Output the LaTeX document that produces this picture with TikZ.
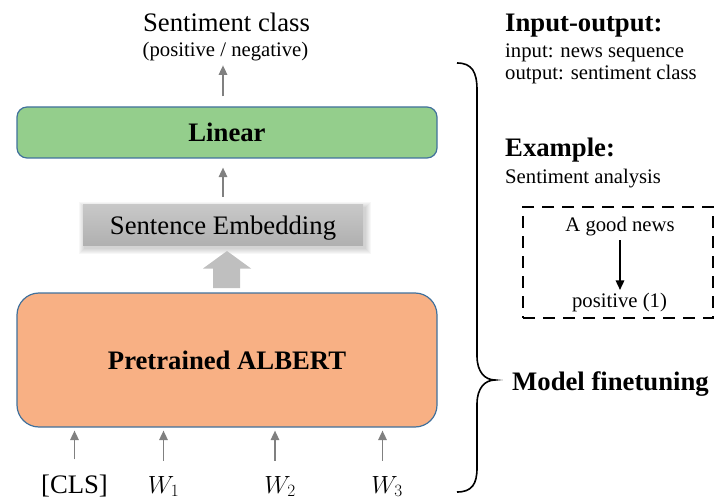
\documentclass[tikz,border=0pt]{standalone}
\usepackage{fontspec}
\setmainfont{Liberation Serif}
\usetikzlibrary{arrows.meta}
\definecolor{lingreen}{RGB}{148,206,140}
\definecolor{albertor}{RGB}{248,176,132}
\definecolor{boxblue}{RGB}{65,113,156}
\definecolor{arrgray}{RGB}{128,128,128}
\definecolor{blockgray}{RGB}{191,191,191}
\newcommand{\bigsz}{\fontsize{26.7}{30}\selectfont}
\newcommand{\smallsz}{\fontsize{20.7}{23}\selectfont}
\begin{document}
\begin{tikzpicture}[x=1pt,y=-1pt,
  modelbox/.style={draw=boxblue, line width=1.2pt, minimum width=420pt, inner sep=0pt},
  garr/.style={draw=arrgray, line width=1.6pt, -{Triangle[width=8.5pt,length=9.5pt]}},
  karr/.style={draw=black, line width=1.6pt, -{Triangle[width=8.5pt,length=9.5pt]}},
  lbl/.style={inner sep=0pt, anchor=base},
  lblw/.style={inner sep=0pt, anchor=base west},
]
\useasboundingbox (0,0) rectangle (718,500);

% boxes
\node[modelbox, fill=lingreen, rounded corners=10pt, minimum height=51pt, font=\bigsz\bfseries] (linear) at (227,132.5) {Linear};
\node[modelbox, fill=albertor, rounded corners=22pt, minimum height=134pt, font=\bigsz\bfseries] (albert) at (227,360) {Pretrained ALBERT};

% sentence embedding with soft shadow
\foreach \i in {1,...,6}{
  \fill[black, opacity=0.03] ({83-\i+2},{205-\i+3}) rectangle ({363+\i+2},{245+\i+3});
}
\node[inner sep=0pt, minimum width=280pt, minimum height=40pt, text depth=0pt,
  top color={rgb,255:red,200;green,200;blue,200}, bottom color={rgb,255:red,176;green,176;blue,176},
  font=\bigsz] (semb) at (223,225) {Sentence Embedding};

% block arrow from ALBERT to sentence embedding
\fill[blockgray] (213,288) -- (240,288) -- (240,268.5) -- (251,268.5) -- (227,251) -- (203,268.5) -- (213,268.5) -- cycle;

% top labels
\node[lbl, font=\bigsz] (sc) at (226.5,31.7) {Sentiment class};
\node[lbl, font=\smallsz] (pn) at (225.5,56.7) {(positive / negative)};

\draw[garr, shorten <=10pt, shorten >=4pt] (semb.north |- linear.north) -- (semb.north |- pn.south);
\draw[garr, shorten <=8pt, shorten >=9pt] (semb.north) -- (semb.north |- linear.south);

% inputs
\node[lbl, font=\bigsz] (cls) at (74.5,493) {[CLS]};
\node[lbl, font=\bigsz] (w1) at (163.5,493) {$W_1$};
\node[lbl, font=\bigsz] (w2) at (280,493) {$W_2$};
\node[lbl, font=\bigsz] (w3) at (387,493) {$W_3$};
\draw[garr, shorten <=15pt, shorten >=3pt] (cls.north) -- (cls.north |- albert.south);
\draw[garr, shorten <=15pt, shorten >=3pt] (w1.north) -- (w1.north |- albert.south);
\draw[garr, shorten <=15pt, shorten >=3pt] ([xshift=-5pt]w2.north) -- ([xshift=-5pt]w2.north |- albert.south);
\draw[garr, shorten <=15pt, shorten >=3pt] ([xshift=-4.5pt]w3.north) -- ([xshift=-4.5pt]w3.north |- albert.south);

% brace
\draw[black, line width=1.6pt] (457,63) .. controls (472,63) and (477,72) .. (477,90)
  -- (477,356) .. controls (477,372) and (485,380) .. (495,380)
  .. controls (485,380) and (477,388) .. (477,404)
  -- (477,468) .. controls (477,484) and (472,492) .. (457,492);

% right texts
\node[lblw, font=\bigsz\bfseries] (io) at (505,31.7) {Input-output:};
\node[lblw, font=\smallsz] (inp) at (505,57.3) {input: news sequence};
\node[lblw, font=\smallsz] (outp) at (505,79.5) {output: sentiment class};
\node[lblw, font=\bigsz\bfseries] (ex) at (505,156.7) {Example:};
\node[lblw, font=\smallsz] (sa) at (505,184) {Sentiment analysis};
\node[lblw, font=\bigsz\bfseries] (mf) at (512,390) {Model finetuning};

% example box
\node[draw=black, line width=2pt, dash pattern=on 12pt off 8pt, minimum width=190pt, minimum height=111pt, inner sep=0pt] (exbox) at (618,262.5) {};
\node[lbl, font=\smallsz] (good) at (620,232) {A good news};
\node[lbl, font=\smallsz] (pos) at (619.5,307) {positive (1)};
\draw[karr, shorten <=3.5pt, shorten >=2.5pt] (good.south) -- (good.south |- pos.north);
\end{tikzpicture}
\end{document}
